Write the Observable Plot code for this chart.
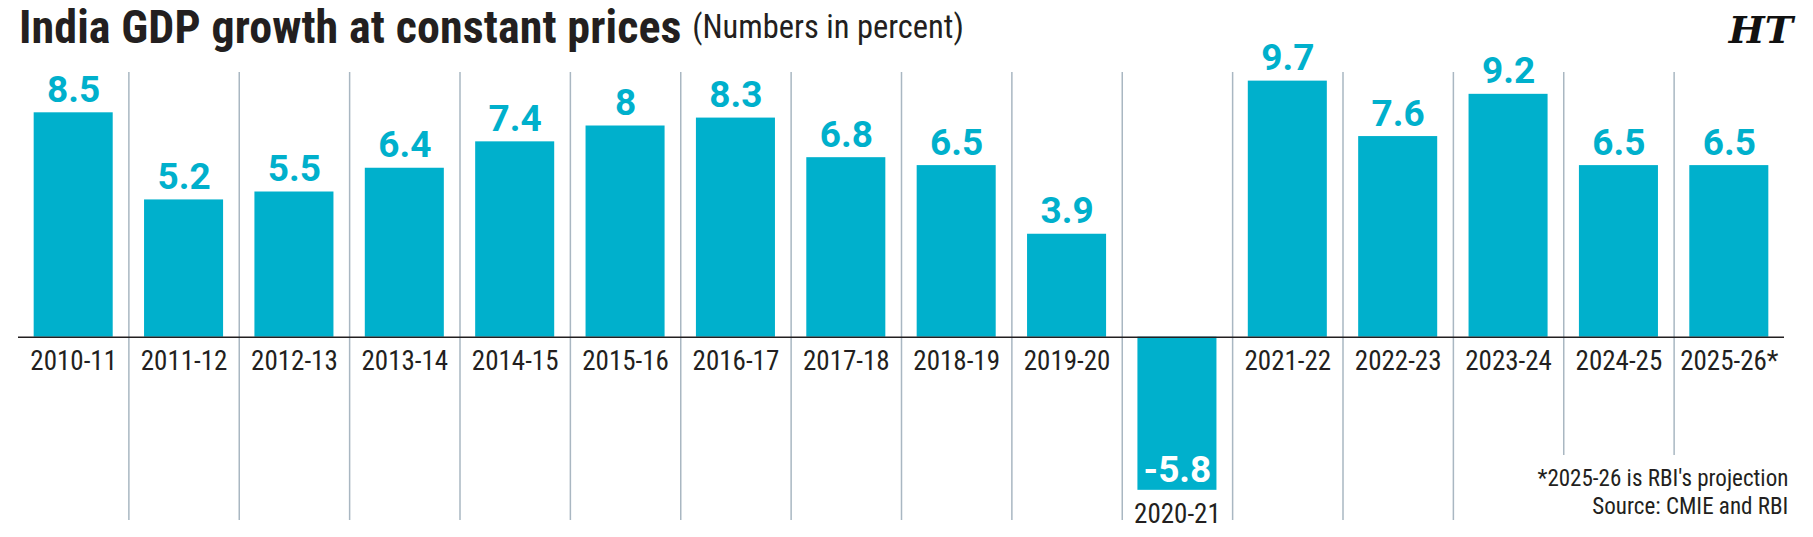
<!DOCTYPE html>
<html><head><meta charset="utf-8">
<script src="https://cdn.jsdelivr.net/npm/d3@7"></script>
<script src="https://cdn.jsdelivr.net/npm/@observablehq/plot@0.6"></script>
<style>
body{margin:0;background:#fff;}
#wrap{position:relative;width:1813px;height:537px;overflow:hidden;font-family:"Roboto Condensed","Roboto",sans-serif;color:#231f20;}
#chart{position:absolute;left:0;top:0;}
#title{position:absolute;left:19px;top:4px;font-size:46px;font-weight:bold;line-height:1;white-space:nowrap;letter-spacing:0.1px;}
#title span{font-weight:normal;font-size:32.5px;position:relative;top:-5px;letter-spacing:0;}
#logo{position:absolute;right:20px;top:11px;font-family:"DejaVu Serif",serif;font-weight:bold;font-style:italic;font-size:38px;line-height:1;color:#111;}
#caption{position:absolute;right:25px;top:464px;text-align:right;font-family:"Roboto Condensed",sans-serif;font-size:24px;line-height:28.3px;white-space:nowrap;transform:scaleX(0.96);transform-origin:right top;}
</style></head>
<body>
<div id="wrap">
  <div id="chart"></div>
  <div id="title">India GDP growth at constant prices <span>(Numbers in percent)</span></div>
  <div id="logo">HT</div>
  <div id="caption">*2025-26 is RBI's projection<br>Source: CMIE and RBI</div>
</div>
<script>
const categories = ["2010-11","2011-12","2012-13","2013-14","2014-15","2015-16","2016-17","2017-18","2018-19","2019-20","2020-21","2021-22","2022-23","2023-24","2024-25","2025-26*"];
const growth = [8.5, 5.2, 5.5, 6.4, 7.4, 8, 8.3, 6.8, 6.5, 3.9, -5.8, 9.7, 7.6, 9.2, 6.5, 6.5];
const valueLabels = ["8.5","5.2","5.5","6.4","7.4","8","8.3","6.8","6.5","3.9","-5.8","9.7","7.6","9.2","6.5","6.5"];
// separators sit before these categories; the last two are shorter to leave room for the note
const separatorAt = categories.slice(1);
const shortSeparators = ["2024-25","2025-26*"];

const data = categories.map((c, i) => ({year: c, value: growth[i], label: valueLabels[i]}));
const W = 1813, H = 537, ML = 18, MR = 29;
const step = (W - ML - MR) / categories.length;
const teal = "#00b0cc";
const ink = "#231f20";

const chart = Plot.plot({
  width: W, height: H,
  marginLeft: ML, marginRight: MR, marginTop: 0, marginBottom: 0,
  style: {background: "transparent", fontFamily: "'Roboto Condensed', Roboto, sans-serif"},
  x: {type: "band", domain: categories, paddingInner: 0.284, paddingOuter: 0.142, round: false, axis: null},
  y: {domain: [-7.587, 12.754], axis: null},
  marks: [
    Plot.ruleX(separatorAt, {x: d => d, y1: 10.03, y2: d => shortSeparators.includes(d) ? -4.48 : -6.94, dx: -step / 2, stroke: "#a9b7c2", strokeWidth: 1.5}),
    Plot.barY(data, {x: "year", y: "value", fill: teal}),
    Plot.ruleY([0], {stroke: ink, strokeWidth: 1.6}),
    Plot.text(data.filter(d => d.value >= 0), {x: "year", y: "value", text: "label", lineAnchor: "bottom", dy: -11, fill: teal, fontSize: 37, fontWeight: "bold", fontFamily: "Roboto"}),
    Plot.text(data.filter(d => d.value < 0), {x: "year", y: "value", text: "label", lineAnchor: "bottom", dy: -8, fill: "#ffffff", fontSize: 37, fontWeight: "bold", fontFamily: "Roboto"}),
    Plot.text(data, {x: "year", y: d => Math.min(0, d.value), text: "year", lineAnchor: "bottom", dy: 32.6, fill: ink, fontSize: 27, fontFamily: "Roboto Condensed"})
  ]
});
document.getElementById("chart").appendChild(chart);
</script>
</body></html>
